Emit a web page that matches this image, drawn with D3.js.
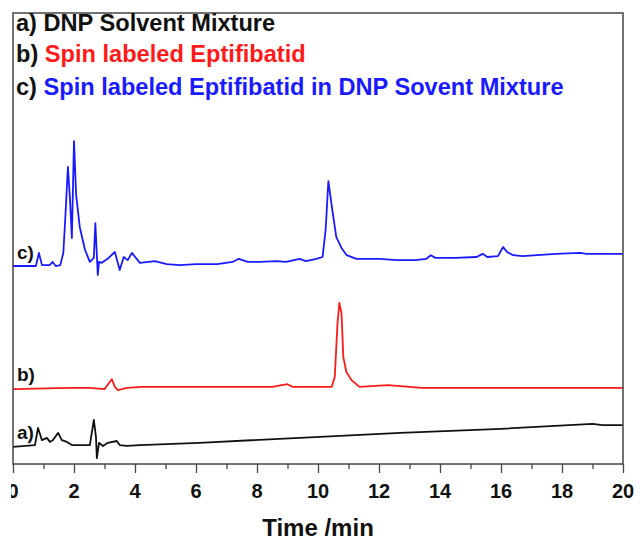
<!DOCTYPE html>
<html><head><meta charset="utf-8">
<script src="https://cdn.jsdelivr.net/npm/d3@7"></script>
<style>body{margin:0;background:#fff}svg{display:block}text{font-family:"Liberation Sans",Arial,sans-serif;font-weight:bold}</style>
</head><body><svg id="c" width="640" height="542"></svg>
<script>
// Retention times (min) and detector signal (arbitrary units, traces offset as drawn)
const timeA = [0,0.72,0.82,0.95,1.11,1.21,1.31,1.48,1.6,1.77,1.93,2.52,2.65,2.72,2.75,2.82,2.95,3.11,3.4,3.5,3.73,4.16,6.1,9.4,12.7,16.0,19.0,19.33,20];
const sigA  = [3.8,4.2,8.0,5.3,5.8,4.9,5.3,6.9,5.3,4.9,4.2,4.2,9.8,6.0,1.3,4.7,4.0,4.7,5.1,4.2,4.0,4.2,4.7,5.8,6.9,7.8,8.9,8.6,8.6];

const timeB = [0,1.9,2.5,3.0,3.1,3.24,3.34,3.44,3.73,4.25,6,8.5,9.0,9.17,9.8,10.45,10.55,10.64,10.7,10.77,10.83,10.93,11.1,11.36,12.3,13.4,20];
const sigB  = [16.6,16.9,16.9,16.6,17.5,18.8,17.1,16.4,16.9,17.1,17.1,17.1,17.7,17.1,17.1,17.1,19.3,31.3,35.7,33.5,23.7,20.4,18.6,17.1,17.5,16.9,16.9];

const timeC = [0,0.75,0.85,0.95,1.2,1.3,1.4,1.55,1.65,1.72,1.8,1.87,1.93,2.0,2.07,2.19,2.36,2.52,2.65,2.7,2.75,2.78,2.82,2.91,3.1,3.34,3.5,3.63,3.76,3.9,4.16,4.65,5.04,5.47,6.0,6.7,7.2,7.4,7.7,8.1,8.65,8.95,9.4,9.6,9.95,10.15,10.25,10.34,10.47,10.6,10.77,10.94,11.26,12.0,12.6,13.2,13.55,13.7,13.85,14.5,15.2,15.4,15.55,15.9,16.07,16.2,16.4,16.7,17.8,18.6,18.8,20];
const sigC  = [43.9,43.9,46.8,44.1,44.1,44.8,43.9,44.1,46.8,55.2,65.9,58.5,50.1,71.6,59.6,52.5,47.5,44.8,45.7,53.4,46.3,41.9,44.8,44.6,45.5,47.0,43.0,45.9,45.2,46.8,44.6,45.0,44.3,44.1,44.3,44.3,44.8,45.5,44.8,44.8,45.0,44.8,45.5,45.0,45.5,45.9,51.9,62.7,56.3,50.3,47.9,46.3,45.5,45.5,45.2,45.2,45.5,46.3,45.7,45.7,45.9,46.6,45.9,46.1,48.1,47.0,46.3,46.1,46.6,46.8,46.6,46.6];

const legendLabels = ["a) ","b) ","c) "];
const legendNames = ["DNP Solvent Mixture","Spin labeled Eptifibatid","Spin labeled Eptifibatid in DNP Sovent Mixture"];
const traceLabels = ["a)","b)","c)"];
const colors = ["#111111","#ff1a1a","#1a1aff"];
const xTicks = [0,2,4,6,8,10,12,14,16,18,20];
const xTitle = "Time /min";

const svg = d3.select("#c");
const L=13, R=623, T=13, B=464;
const x = d3.scaleLinear().domain([0,20]).range([L,R]);
const y = d3.scaleLinear().domain([0,100]).range([B,T]);

svg.append("defs").append("clipPath").attr("id","lblclip")
  .append("rect").attr("x",11).attr("y",0).attr("width",640).attr("height",542);

const series = [[timeA,sigA],[timeB,sigB],[timeC,sigC]];
const line = d3.line().x(d=>x(d[0])).y(d=>y(d[1]));
series.forEach((s,i)=>{
  const pts = s[0].map((t,j)=>[t,s[1][j]]);
  svg.append("path").attr("d",line(pts)).attr("fill","none").attr("stroke",colors[i]).attr("stroke-width",1.8).attr("stroke-linejoin","round");
});

// frame
svg.append("rect").attr("x",L).attr("y",T).attr("width",R-L).attr("height",B-T).attr("fill","none").attr("stroke","#444").attr("stroke-width",1.5);

// x axis
const ax = svg.append("g").attr("transform",`translate(0,${B})`)
  .call(d3.axisBottom(x).tickValues(d3.range(0,21,1)).tickSize(5).tickFormat(""));
ax.select(".domain").remove();
ax.selectAll("line").attr("stroke","#444").attr("stroke-width",1.3);
ax.selectAll(".tick").filter(d=>d%2===0).select("line").attr("y2",9);
svg.append("g").attr("clip-path","url(#lblclip)").selectAll("text").data(xTicks).join("text")
  .attr("x",d=>x(d)).attr("y",498).attr("text-anchor","middle").attr("font-size",20).attr("fill","#111").text(d=>d);
svg.append("text").attr("x",x(10)).attr("y",536).attr("text-anchor","middle").attr("font-size",24).attr("fill","#111").text(xTitle);

// legend
const ly=[31,62,95];
legendLabels.forEach((lab,i)=>{
  const t = svg.append("text").attr("x",16).attr("y",ly[i]).attr("font-size",23.6);
  t.append("tspan").attr("fill","#111").text(lab);
  t.append("tspan").attr("fill",colors[i]).text(legendNames[i]);
});

// trace labels
const tl=[[17,439],[17,381],[17,259]];
traceLabels.forEach((lab,i)=>{
  svg.append("text").attr("x",tl[i][0]).attr("y",tl[i][1]).attr("font-size",19).attr("fill","#111").text(lab);
});
</script></body></html>
